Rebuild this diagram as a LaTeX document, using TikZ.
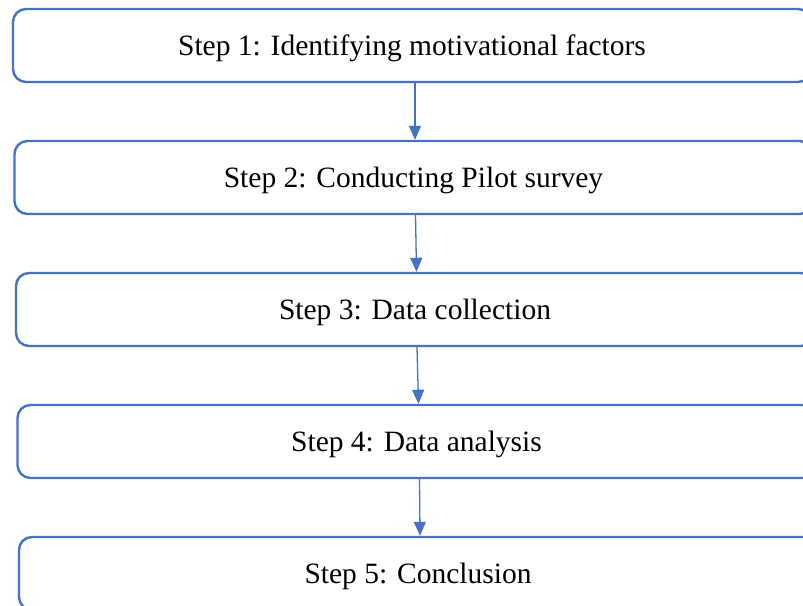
\documentclass[tikz,border=0pt]{standalone}
\usepackage{fontspec}
\setmainfont{Liberation Serif}
\usetikzlibrary{positioning,arrows.meta}

\definecolor{boxblue}{HTML}{4472C4}

\begin{document}
\begin{tikzpicture}[x=1pt,y=1pt,node distance=132pt,on grid,
  stepbox/.style={draw=boxblue,line width=2.4pt,rounded corners=13pt,
    minimum width=798pt,minimum height=73pt,inner sep=0pt,text depth=0pt,
    font=\fontsize{29.5}{34}\selectfont},
  flow/.style={color=boxblue,line width=1.3pt,
    -{Triangle[length=14pt,width=12pt]}}]
\useasboundingbox (0,0) rectangle (803,-605);
\clip (0,0) rectangle (803,-605);

\node[stepbox] (s_1) at (412,-45.5) {Step 1: Identifying motivational factors};
\node[stepbox] (s_2) [below=of s_1,xshift=1.5pt] {Step 2: Conducting Pilot survey};
\node[stepbox] (s_3) [below=of s_2,xshift=1.5pt] {Step 3: Data collection};
\node[stepbox] (s_4) [below=of s_3,xshift=1.5pt] {Step 4: Data analysis};
\node[stepbox] (s_5) [below=of s_4,xshift=1.5pt] {Step 5: Conclusion};

\draw[flow] ([xshift=3pt]s_1.south) -- ([xshift=1.5pt]s_2.north);
\draw[flow] ([xshift=2pt]s_2.south) -- ([xshift=1.5pt]s_3.north);
\draw[flow] ([xshift=2pt]s_3.south) -- ([xshift=2pt]s_4.north);
\draw[flow] ([xshift=3pt]s_4.south) -- ([xshift=2pt]s_5.north);
\end{tikzpicture}
\end{document}
